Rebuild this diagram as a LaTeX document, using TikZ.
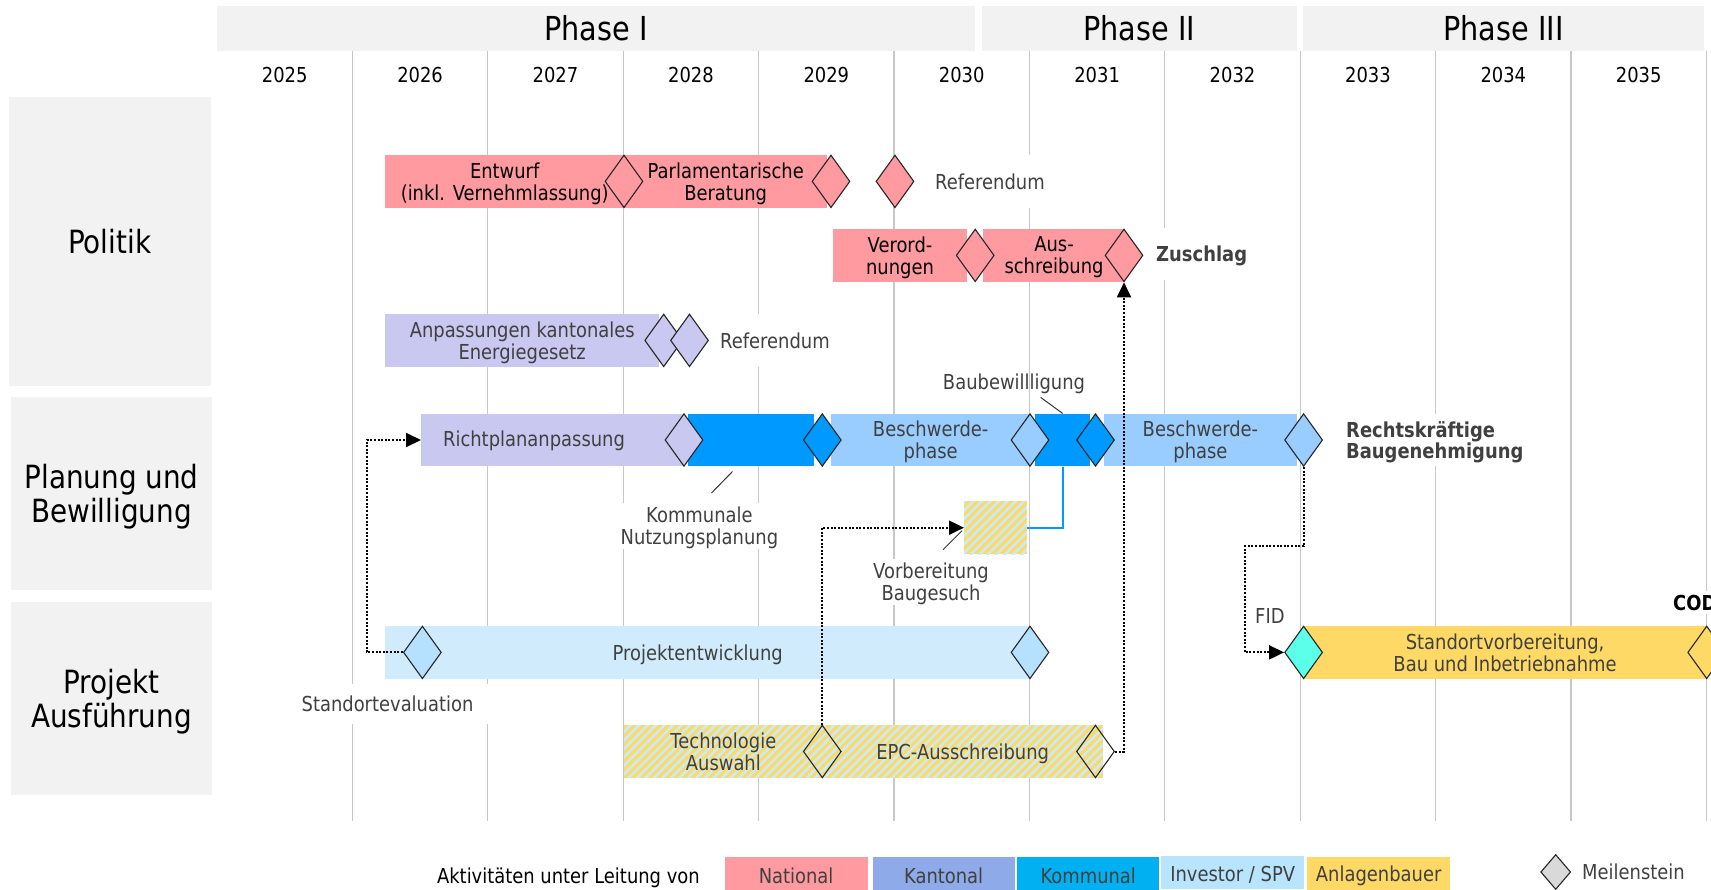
\documentclass[tikz,border=0pt]{standalone}
\usepackage{fontspec}
\setmainfont{DejaVu Sans}[FakeStretch=0.87]
\usepackage{tikz}
\usetikzlibrary{positioning, arrows.meta, shapes.geometric, patterns.meta, calc}
\definecolor{national}{HTML}{FF9BA0}
\definecolor{kantonal}{HTML}{C8C8F0}
\definecolor{kantlegend}{HTML}{8FAAE8}
\definecolor{kommunal}{HTML}{0099FF}
\definecolor{kommlegend}{HTML}{00B0F0}
\definecolor{beschwerde}{HTML}{99CCFF}
\definecolor{investor}{HTML}{D0ECFC}
\definecolor{invlegend}{HTML}{B8E4FD}
\definecolor{investms}{HTML}{B5E1FE}
\definecolor{anlagen}{HTML}{FFD966}
\definecolor{stripe}{HTML}{C8ECFB}
\definecolor{fidcol}{HTML}{5CFFE8}
\definecolor{panel}{HTML}{F2F2F2}
\definecolor{gridcol}{HTML}{C8C8C8}
\definecolor{txtgray}{HTML}{404040}
\newcommand{\bodyfont}{\fontsize{20.6}{22}\selectfont}
\newcommand{\catfont}{\fontsize{32}{34}\selectfont}
\newcommand{\phasefont}{\fontsize{33}{36}\selectfont}

\begin{document}
\begin{tikzpicture}[
  x=1pt, y=-1pt,
  font=\bodyfont,
  bar/.style={rectangle, inner sep=0pt, minimum height=52.7pt, anchor=west, align=center, text depth=0pt},
  hatched/.style={fill=anlagen, postaction={pattern={Lines[angle=45, distance=6pt, line width=2.6pt]}, pattern color=stripe}},
  ms/.style={diamond, draw=black!85, line width=1.1pt, inner sep=0pt, minimum width=38pt, minimum height=52.7pt},
  note/.style={text=txtgray, align=center, inner sep=4pt, text depth=0pt},
  cat/.style={fill=panel, inner sep=0pt, minimum width=201pt, minimum height=193pt, align=center, font=\catfont, text depth=0pt},
  phase/.style={fill=panel, inner sep=0pt, minimum height=45.5pt, font=\phasefont},
  gridline/.style={draw=gridcol, line width=1.3pt},
  link/.style={line width=2pt, dash pattern=on 2pt off 1.6pt, -{Triangle[length=15pt, width=14pt]}},
  leader/.style={draw=black!80, line width=1pt},
  legbox/.style={rectangle, inner sep=0pt, minimum height=33pt, anchor=north west, text=txtgray,
    execute at begin node=\rule{0pt}{20.5pt}},
]
  \useasboundingbox (0,0) rectangle (1711,889);
  \clip (0,0) rectangle (1711,889);

  % Phases and years
  \node[phase, minimum width=758pt] (ph1) at (596,28.5) {Phase I};
  \node[phase, minimum width=314.5pt] (ph2) at (1139.25,28.5) {Phase II};
  \node[phase, minimum width=401pt] (ph3) at (1503.5,28.5) {Phase III};
  \foreach \i in {1,...,11}
    \draw[gridline] (217+135.4*\i, 50.5) -- (217+135.4*\i, 821);
  \foreach \yr [count=\i from 0] in {2025,...,2035}
    \node (y\yr) at (284.7+135.4*\i, 75) {\yr};

  % Categories
  \node[cat, minimum width=202pt, minimum height=289.7pt] (politik) at (109.65,241.5) {Politik};
  \node[cat] (planung) at (111.5,493.5) {Planung und\\Bewilligung};
  \node[cat] (projekt) at (111.5,698.5) {Projekt\\Ausführung};

  % Politik
  \node[bar, fill=national, minimum width=239pt] (entwurf) at (385,181.4) {Entwurf\\(inkl. Vernehmlassung)};
  \node[bar, fill=national, minimum width=203pt] (parl) at (624,181.4) {Parlamentarische\\Beratung};
  \node[ms, fill=national] (mentwurf) at (624,181.4) {};
  \node[ms, fill=national] (mparl) at (831,181.4) {};
  \node[ms, fill=national] (mref) at (895,181.4) {};
  \node[note, fill=white, anchor=west, minimum height=52.7pt] (ref) at (931,181.4) {Referendum};

  \node[bar, fill=national, minimum width=134.4pt] (verord) at (832.6,255.4) {Verord-\\nungen};
  \node[bar, fill=national, minimum width=141.6pt] (aus) at (983,255.4) {Aus-\\schreibung};
  \node[ms, fill=national] (mverord) at (975.2,255.4) {};
  \node[ms, fill=national] (maus) at (1124,255.4) {};
  \node[note, fill=white, anchor=west, minimum height=52.7pt, font=\bodyfont\bfseries] (zuschlag) at (1152,254) {Zuschlag};

  \node[bar, fill=kantonal, text=txtgray, minimum width=274pt] (kant) at (385,340.4) {Anpassungen kantonales\\Energiegesetz};
  \node[ms, fill=kantonal] (mkant) at (663.7,340.4) {};
  \node[ms, fill=kantonal] (mkantref) at (689.5,340.4) {};
  \node[note, fill=white, anchor=west, minimum height=52.7pt] (kantref) at (716,340.4) {Referendum};

  % Planung und Bewilligung
  \node[bar, fill=kantonal, minimum width=262pt] (richt) at (421,440) {};
  \node[note] (richtlbl) at (534,439) {Richtplananpassung};
  \node[bar, fill=kommunal, minimum width=125.5pt] (kom1) at (688,440) {};
  \node[bar, fill=beschwerde, text=txtgray, minimum width=199pt] (besch1) at (831,440) {Beschwerde-\\phase};
  \node[bar, fill=kommunal, minimum width=55pt] (kom2) at (1035,440) {};
  \node[bar, fill=beschwerde, text=txtgray, minimum width=192.5pt] (besch2) at (1104,440) {Beschwerde-\\phase};
  \node[ms, fill=kantonal] (mricht) at (684,440) {};
  \node[ms, fill=kommunal] (mkom1) at (822.3,440) {};
  \node[ms, fill=beschwerde] (mbesch1) at (1030,440) {};
  \node[ms, fill=kommunal] (mkom2) at (1095.5,440) {};
  \node[ms, fill=beschwerde] (mbesch2) at (1303.6,440) {};
  \node[note, fill=white, anchor=west, align=left, minimum height=52.7pt, font=\fontsize{20.6}{20}\selectfont\bfseries] (recht) at (1342,440) {Rechtskräftige\\Baugenehmigung};
  \node[note] (baub) at (1014,381.7) {Baubewillligung};
  \node[note, fill=white] (knp) at (699.4,526) {Kommunale\\Nutzungsplanung};
  \node[bar, hatched, minimum width=62.7pt, minimum height=53.3pt] (vorb) at (964,527.7) {};
  \node[note, fill=white] (vorblbl) at (931,582) {Vorbereitung\\Baugesuch};

  % Projekt Ausfuehrung
  \node[bar, fill=investor, minimum width=645pt] (proj) at (385,652.4) {};
  \node[note] (projlbl) at (697.7,652.4) {Projektentwicklung};
  \node[ms, fill=investms] (mproj) at (422.4,652.4) {};
  \node[ms, fill=investms] (mprojend) at (1030,652.4) {};
  \node[note, fill=white, minimum width=206pt, minimum height=40pt] (stdev) at (387.5,704) {Standortevaluation};
  \node[bar, fill=anlagen, text=txtgray, minimum width=403.7pt] (standort) at (1303,652.4) {Standortvorbereitung,\\Bau und Inbetriebnahme};
  \node[ms, fill=fidcol] (mfid) at (1303.6,652.4) {};
  \node[ms, fill=anlagen] (mcod) at (1706.7,652.4) {};
  \node[note, anchor=west] (fid) at (1251,615.7) {FID};
  \node[note, fill=white, anchor=west, text=black, font=\bodyfont\bfseries] (cod) at (1669,602.7) {COD};

  \node[bar, hatched, text=txtgray, minimum width=198.3pt] (tech) at (624,751.5) {Technologie\\Auswahl};
  \node[bar, hatched, text=txtgray, minimum width=280.3pt] (epc) at (822.3,751.5) {EPC-Ausschreibung};
  \node[ms] (mtech) at (822.3,751.5) {};
  \node[ms] (mepc) at (1095.5,751.5) {};

  % Links
  \draw[link] (mproj.west) -- ++(-36,0) |- (richt.west);
  \draw[link] (mtech.north) |- (vorb.west);
  \draw[link] (mepc.east) -| (maus.south);
  \draw[link] (mbesch2.south) -- ++(0,79.3) -- ++(-58.6,0) |- (mfid.west);
  \draw[draw=kommunal, line width=2pt] (kom2.south) |- (vorb.east);
  \draw[leader] (kom2.north) -- ++(-22,-16);
  \draw[leader] ([shift={(-18.5,5)}]kom1.south) -- ++(-21,21.5);
  \draw[leader] ([shift={(-2,3)}]vorb.west) -- ++(-19,19);

  % Legend
  \node (legtitle) at (568.4,878) {Aktivitäten unter Leitung von};
  \node[legbox, fill=national, minimum width=143pt] (lnat) at (724.4,856.7) {National};
  \node[legbox, fill=kantlegend, minimum width=142pt] (lkant) at (872.4,856.7) {Kantonal};
  \node[legbox, fill=kommlegend, minimum width=142pt] (lkom) at (1017,856.7) {Kommunal};
  \node[legbox, fill=invlegend, minimum width=143pt] (linv) at (1161,855.7) {Investor / SPV};
  \node[legbox, fill=anlagen, minimum width=143pt] (lanl) at (1307,856.7) {Anlagenbauer};
  \node[ms, fill=black!15, minimum width=30pt, minimum height=35pt] (mleg) at (1555.7,872) {};
  \node[note, anchor=west] (legms) at (1578,871.7) {Meilenstein};
\end{tikzpicture}
\end{document}
